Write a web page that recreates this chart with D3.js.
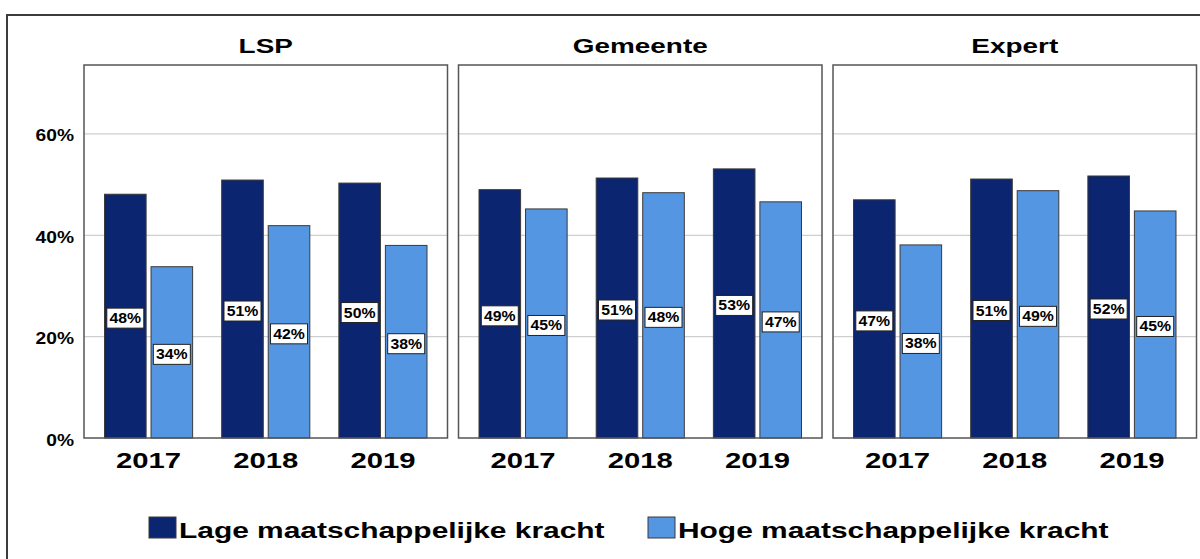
<!DOCTYPE html>
<html>
<head>
<meta charset="utf-8">
<script src="https://cdn.jsdelivr.net/npm/d3@7"></script>
<style>
  html, body { margin: 0; padding: 0; background: #fff; }
  svg { display: block; font-family: "Liberation Sans", Arial, sans-serif; }
</style>
</head>
<body>
<svg id="chart" width="1200" height="559"></svg>
<script>
// ---- data ----
const panels = ["LSP", "Gemeente", "Expert"];
const years = ["2017", "2018", "2019"];
const seriesNames = ["Lage maatschappelijke kracht", "Hoge maatschappelijke kracht"];
const lageValues = [
  [48.1, 50.9, 50.3],   // LSP
  [49.0, 51.3, 53.1],   // Gemeente
  [47.0, 51.1, 51.7]    // Expert
];
const hogeValues = [
  [33.8, 41.9, 38.0],
  [45.2, 48.4, 46.6],
  [38.1, 48.8, 44.8]
];
const yTicks = [0, 20, 40, 60];
const colors = ["#0c2570", "#5596e2"];

(function () {
// ---- layout ----
const svg = d3.select("#chart");
const plotTop = 65, plotBottom = 438;
const panelLeft = 84, panelW = 363.5, panelGap = 11;
const y = d3.scaleLinear().domain([0, 73.6]).range([plotBottom, plotTop]);

const px = d3.scaleBand().domain(panels)
  .range([panelLeft, panelLeft + 3 * panelW + 2 * panelGap])
  .paddingInner(panelGap / (panelW + panelGap)).paddingOuter(0);

function stretchedText(g, x, yy, txt, size, sx, anchor) {
  return g.append("text")
    .attr("transform", `translate(${x},${yy}) scale(${sx},1)`)
    .attr("text-anchor", anchor || "middle")
    .attr("font-size", size)
    .attr("font-weight", "bold")
    .attr("fill", "#000")
    .text(txt);
}

// outer frame
svg.append("rect").attr("x", 7).attr("y", 15).attr("width", 1210).attr("height", 570)
  .attr("fill", "none").attr("stroke", "#3c3c3c").attr("stroke-width", 2);

// y axis labels
yTicks.forEach(t => {
  stretchedText(svg, 74, y(t) + 7.5, t + "%", 16, 1.2, "end");
});

panels.forEach((p, i) => {
  const x0 = px(p), w = px.bandwidth();
  const g = svg.append("g");
  const xs = d3.scaleBand().domain(years).range([x0, x0 + w])
    .paddingInner(0.248).paddingOuter(0.175);
  const xb = d3.scaleBand().domain([0, 1]).range([0, xs.bandwidth()])
    .paddingInner(0.106).paddingOuter(0);

  // gridlines
  g.selectAll("line.grid").data(yTicks.filter(t => t > 0)).join("line")
    .attr("x1", x0).attr("x2", x0 + w)
    .attr("y1", d => y(d)).attr("y2", d => y(d))
    .attr("stroke", "#cfcfcf").attr("stroke-width", 1.2);

  // bars
  const rows = [];
  years.forEach((yr, j) => {
    rows.push({ yr, s: 0, v: lageValues[i][j] });
    rows.push({ yr, s: 1, v: hogeValues[i][j] });
  });
  g.selectAll("rect.bar").data(rows).join("rect")
    .attr("x", d => xs(d.yr) + xb(d.s))
    .attr("width", xb.bandwidth())
    .attr("y", d => y(d.v))
    .attr("height", d => y(0) - y(d.v))
    .attr("fill", d => colors[d.s])
    .attr("stroke", "#3a3a3a").attr("stroke-width", 1);

  // panel frame
  g.append("rect").attr("x", x0).attr("y", plotTop).attr("width", w).attr("height", plotBottom - plotTop)
    .attr("fill", "none").attr("stroke", "#555").attr("stroke-width", 1.5);

  // value labels
  rows.forEach(d => {
    const cx = xs(d.yr) + xb(d.s) + xb.bandwidth() / 2;
    const cy = y(d.v / 2) + 2;
    g.append("rect").attr("x", cx - 18.5).attr("y", cy - 10).attr("width", 37).attr("height", 20)
      .attr("fill", "#fff").attr("stroke", "#222").attr("stroke-width", 1);
    stretchedText(g, cx, cy + 5, Math.round(d.v) + "%", 14, 1.13, "middle");
  });

  // title
  stretchedText(g, x0 + w / 2, 53, p, 21, 1.33, "middle");

  // year labels
  years.forEach(yr => {
    stretchedText(g, xs(yr) + xs.bandwidth() / 2, 468, yr, 22, 1.33, "middle");
  });
});

// legend
const legendX = [149, 648];
seriesNames.forEach((n, k) => {
  svg.append("rect").attr("x", legendX[k]).attr("y", 517).attr("width", 27).attr("height", 21)
    .attr("fill", colors[k]).attr("stroke", "#3a3a3a").attr("stroke-width", 1);
  stretchedText(svg, legendX[k] + 30, 538, n, 22, 1.36, "start");
});
})();
</script>
</body>
</html>
